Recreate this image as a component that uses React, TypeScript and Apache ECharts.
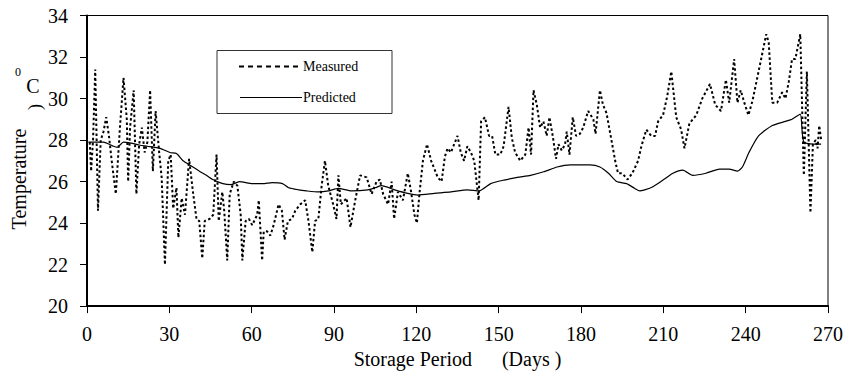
import React, { useEffect, useRef } from "react";
import * as echarts from "echarts";

const xTicks = { min: 0, max: 270, interval: 30 };
const yTicks = { min: 20, max: 34, interval: 2 };

const measured: [number, number][] = [
  [1, 27.9], [1.5, 26.5], [2.2, 28.0], [3, 31.4], [4, 24.6], [5, 28.0], [6, 28.4], [7, 29.1], [8, 28.2], [9, 27.0],
  [10.5, 25.4], [12, 28.6], [13.3, 31.0], [14.5, 29.0], [15, 26.0], [15.7, 28.6], [17, 30.4], [18, 25.4], [19, 27.8],
  [20, 28.6], [21, 27.4], [22, 27.9], [23, 30.4], [24, 26.5], [25, 29.4], [26.3, 27.4], [27.2, 26.2], [28.4, 22.0],
  [29.6, 27.0], [30.5, 27.3], [31.4, 24.7], [32.6, 25.7], [33.3, 23.3], [34.5, 25.2], [35.7, 24.4], [37.2, 27.1],
  [38.7, 25.4], [39.9, 24.2], [40.9, 24.1], [42, 22.3], [42.9, 24.1], [44.7, 24.2], [46, 24.4], [47.2, 27.3],
  [48, 24.1], [49.3, 25.5], [50, 24.6], [51.1, 22.2], [52, 25.4], [53.5, 26.0], [54.8, 25.8], [56, 24.4],
  [56.6, 22.2], [57.8, 24.1], [59, 24.2], [60.2, 23.9], [62, 24.4], [62.6, 25.1], [63.8, 22.2], [64.4, 23.6],
  [65.6, 23.6], [66.8, 23.4], [68, 23.9], [69.8, 24.9], [71, 24.6], [72, 23.2], [73.2, 24.1], [74.7, 24.2],
  [75.9, 24.6], [77.7, 24.9], [79.5, 25.1], [80.7, 24.1], [82.1, 22.6], [83.1, 24.1], [84.3, 24.2], [85.5, 25.8],
  [86.7, 27.0], [87.9, 25.8], [89.7, 24.9], [90.9, 24.2], [91.6, 26.3], [92.5, 24.9], [94.6, 25.2], [96, 23.8],
  [97.6, 25.0], [99.5, 26.3], [101.9, 26.2], [103.7, 25.4], [105.5, 26.0], [106.7, 26.1], [107.9, 25.4],
  [109.7, 24.9], [111, 26.0], [111.9, 24.2], [113.3, 25.5], [115.1, 25.1], [116.9, 26.4], [118.1, 25.5],
  [119.3, 24.4], [120.2, 24.0], [121.2, 25.5], [122.4, 27.0], [123.9, 27.8], [125.4, 27.0], [127.8, 26.2],
  [129.2, 26.0], [130.4, 27.2], [131.4, 27.6], [132.6, 27.4], [133.8, 27.8], [135, 28.2], [136.2, 27.4],
  [137.4, 27.0], [138.6, 27.7], [139.9, 27.4], [141.1, 27.0], [142.7, 25.1], [143.6, 28.9], [145, 29.1],
  [146.5, 28.2], [147.6, 28.2], [148.8, 27.3], [150.6, 27.3], [151.8, 27.7], [153.6, 29.6], [154.8, 28.1],
  [156, 27.4], [157.9, 27.0], [159.7, 27.3], [160.9, 28.6], [161.8, 27.3], [162.7, 30.4], [163.9, 29.7],
  [165.1, 28.6], [166.3, 28.9], [167.5, 28.2], [168.5, 29.1], [169.7, 28.2], [170.9, 27.1], [171.8, 27.8],
  [173, 27.5], [174.2, 27.8], [174.8, 28.4], [175.8, 27.3], [177, 29.1], [178.2, 28.2], [179.6, 28.3],
  [180.8, 28.6], [182.6, 29.4], [184.5, 29.0], [185.3, 28.3], [186.9, 30.4], [188, 29.7], [189.3, 29.3],
  [192.6, 26.9], [193.5, 26.4], [195, 26.4], [197, 26.1], [198.7, 26.4], [200.8, 27.0], [202, 27.7],
  [203.8, 28.5], [205.6, 28.2], [207, 28.2], [208.1, 28.9], [209.9, 29.2], [211.4, 30.1], [212.9, 31.3],
  [214.7, 29.1], [216.5, 28.5], [217.7, 27.6], [219.5, 28.8], [222, 29.2], [224.2, 30.0], [227, 30.7],
  [228.9, 29.7], [231, 29.4], [232.8, 30.9], [234, 29.8], [235.8, 31.9], [237, 29.8], [238.2, 30.4],
  [239.5, 29.8], [241, 29.2], [242.5, 29.9], [244.7, 31.3], [247.5, 33.1], [248.4, 32.7], [249.7, 29.8],
  [251.5, 29.8], [253.3, 30.3], [254.5, 30.0], [255.7, 30.8], [256.9, 31.9], [258.1, 31.9], [259.9, 33.1],
  [261.2, 26.3], [262.3, 31.3], [263.6, 24.5], [264.5, 27.8], [265.5, 28.0], [266.2, 27.6], [266.8, 28.7],
  [267.5, 28.0],
];

const predicted: [number, number][] = [
  [0.5, 27.9], [6, 27.9], [9.7, 27.7], [11, 27.65], [13.3, 27.9], [16, 27.85], [19.3, 27.75], [22, 27.7],
  [26.6, 27.6], [30.2, 27.4], [32.6, 27.35], [35, 27.0], [38, 26.75], [41, 26.5], [43.5, 26.3], [45.8, 26.1],
  [49.5, 25.9], [52.5, 25.85], [55.5, 26.0], [60.3, 25.9], [64, 25.9], [67.5, 25.95], [71.2, 25.9], [73.5, 25.7],
  [77.1, 25.6], [80, 25.55], [84.4, 25.5], [88, 25.55], [91.6, 25.67], [96.4, 25.55], [102.3, 25.6], [105, 25.7],
  [107.3, 25.8], [112.1, 25.6], [116.9, 25.43], [120.5, 25.35], [126.6, 25.43], [132.6, 25.5], [138.6, 25.6],
  [142.9, 25.55], [147.1, 25.9], [151.9, 26.07], [156.8, 26.2], [161.6, 26.3], [166.4, 26.47], [171.3, 26.7],
  [176.1, 26.8], [183.3, 26.8], [186.9, 26.7], [190, 26.4], [193, 26.0], [196.6, 25.9], [199.6, 25.67],
  [201.4, 25.55], [203.2, 25.6], [206.2, 25.75], [209.9, 26.07], [213.5, 26.4], [217.1, 26.55], [220.7, 26.3],
  [225.5, 26.4], [230.4, 26.6], [234, 26.6], [237, 26.5], [238.8, 26.7], [241.2, 27.4], [244.7, 28.2],
  [249.7, 28.7], [254.5, 28.9], [256.9, 29.0], [259.9, 29.25], [261.2, 27.9], [266.6, 27.8], [267.5, 27.8],
];

const seriesNames = ["Measured", "Predicted"];
const xAxisTitle = "Storage Period\u00a0\u00a0\u00a0\u00a0\u00a0\u00a0(Days\u00a0)";
const yAxisTitle = "Temperature";

const SERIF = "'Liberation Serif', 'Times New Roman', serif";

function txt(text: string, x: number, y: number, size: number, rotation = 0, align = "center") {
  return {
    type: "text",
    x,
    y,
    rotation,
    z: 11,
    style: {
      text,
      fontFamily: SERIF,
      fontSize: size,
      fill: "#000",
      align,
      verticalAlign: "middle",
    },
  };
}

export default function App() {
  const ref = useRef<HTMLDivElement>(null);
  useEffect(() => {
    if (!ref.current) return;
    const chart = echarts.init(ref.current, null, { renderer: "svg" });
    chart.setOption({
      animation: false,
      backgroundColor: "#fff",
      textStyle: { fontFamily: SERIF, color: "#000" },
      grid: {
        left: 87,
        right: 13,
        top: 15.5,
        bottom: 65.5,
        show: true,
        borderColor: "#000",
        borderWidth: 1,
      },
      xAxis: {
        type: "value",
        min: xTicks.min,
        max: xTicks.max,
        interval: xTicks.interval,
        name: xAxisTitle,
        nameLocation: "middle",
        nameGap: 38,
        nameTextStyle: { fontFamily: SERIF, fontSize: 20, color: "#000" },
        axisLine: { show: true, onZero: false, lineStyle: { color: "#000", width: 2 } },
        axisTick: { show: true, inside: false, length: 7, lineStyle: { color: "#000", width: 1 } },
        axisLabel: { fontFamily: SERIF, fontSize: 20, color: "#000", margin: 18 },
        splitLine: { show: false },
      },
      yAxis: {
        type: "value",
        min: yTicks.min,
        max: yTicks.max,
        interval: yTicks.interval,
        axisLine: { show: true, lineStyle: { color: "#000", width: 2 } },
        axisTick: { show: true, inside: false, length: 7, lineStyle: { color: "#000", width: 1 } },
        axisLabel: { fontFamily: SERIF, fontSize: 20, color: "#000", margin: 19 },
        splitLine: { show: false },
      },
      series: [
        {
          name: seriesNames[0],
          type: "line",
          data: measured,
          showSymbol: false,
          symbol: "none",
          lineStyle: { color: "#000", width: 2, type: [2.5, 2.5] },
          z: 2,
        },
        {
          name: seriesNames[1],
          type: "line",
          data: predicted,
          showSymbol: false,
          symbol: "none",
          smooth: 0.2,
          lineStyle: { color: "#000", width: 1.2, type: "solid" },
          z: 3,
        },
      ],
      graphic: [
        {
          type: "rect",
          shape: { x: 217, y: 50.5, width: 175, height: 63 },
          style: { fill: "#fff", stroke: "#333", lineWidth: 1 },
          z: 10,
        },
        {
          type: "line",
          shape: { x1: 239, y1: 66.5, x2: 299, y2: 66.5 },
          style: { stroke: "#000", lineWidth: 2, lineDash: [5, 4] },
          z: 11,
        },
        txt(seriesNames[0], 303, 66.5, 14, 0, "left"),
        {
          type: "line",
          shape: { x1: 240, y1: 97.5, x2: 302, y2: 97.5 },
          style: { stroke: "#000", lineWidth: 1.2 },
          z: 11,
        },
        txt(seriesNames[1], 303, 97.5, 14, 0, "left"),
        txt(yAxisTitle, 19, 179, 20, Math.PI / 2),
        txt("0", 18, 72, 12),
        txt("C", 33, 86, 20),
        txt(")", 35, 107, 18, Math.PI / 2),
      ],
    });
    return () => chart.dispose();
  }, []);
  return <div ref={ref} style={{ width: 846, height: 374, position: "absolute", left: 0, top: 0 }} />;
}
